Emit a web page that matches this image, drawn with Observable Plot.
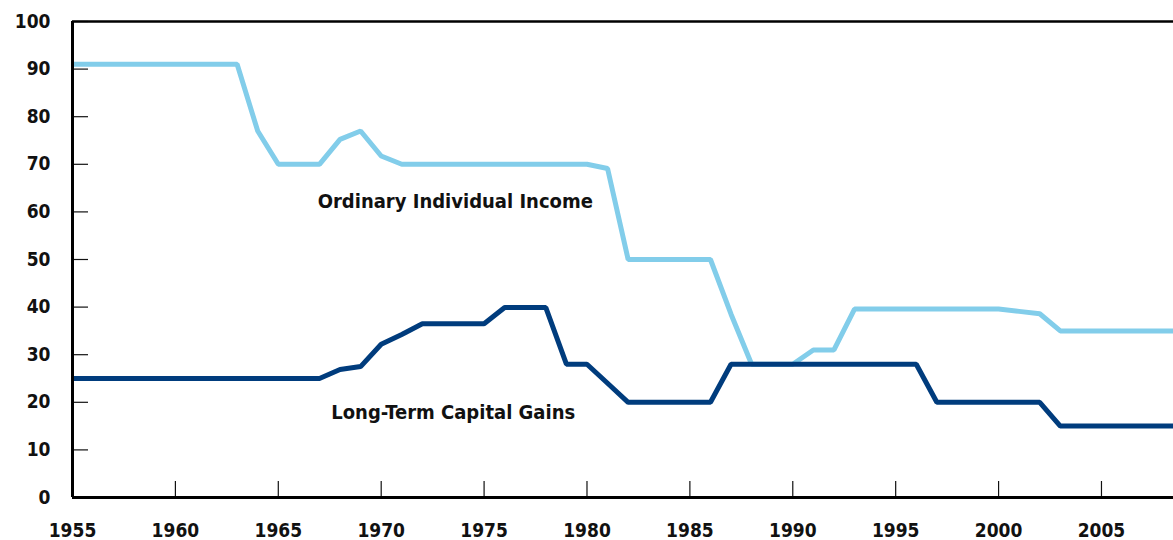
<!DOCTYPE html>
<html>
<head>
<meta charset="utf-8">
<script src="https://cdn.jsdelivr.net/npm/d3@7"></script>
<script src="https://cdn.jsdelivr.net/npm/@observablehq/plot@0.6"></script>
<style>
  html, body { margin: 0; padding: 0; background: #fff; }
  #chart svg { display: block; }
</style>
</head>
<body>
<div id="chart"></div>
<script>
const years = d3.range(1955, 2010);
// Top marginal tax rate on ordinary individual income (%)
const incomeRates = [
  91, 91, 91, 91, 91, 91, 91, 91, 91,        // 1955-1963
  77, 70, 70, 70, 75.25, 77, 71.75,          // 1964-1970
  70, 70, 70, 70, 70, 70, 70, 70, 70, 70,    // 1971-1980
  69.13, 50, 50, 50, 50, 50, 38.5,           // 1981-1987
  28, 28, 28, 31, 31,                        // 1988-1992
  39.6, 39.6, 39.6, 39.6, 39.6, 39.6, 39.6, 39.6, // 1993-2000
  39.1, 38.6, 35, 35, 35, 35, 35, 35, 35     // 2001-2009
];
// Top rate on long-term capital gains (%)
const gainsRates = [
  25, 25, 25, 25, 25, 25, 25, 25, 25, 25, 25, 25, 25, // 1955-1967
  26.9, 27.5, 32.2, 34.25, 36.5, 36.5, 36.5, 36.5,     // 1968-1975
  39.9, 39.9, 39.9, 28, 28, 24,                        // 1976-1981
  20, 20, 20, 20, 20,                                  // 1982-1986
  28, 28, 28, 28, 28, 28, 28, 28, 28, 28,              // 1987-1996
  20, 20, 20, 20, 20, 20,                              // 1997-2002
  15, 15, 15, 15, 15, 15, 15                           // 2003-2009
];
const xTicks = [1955, 1960, 1965, 1970, 1975, 1980, 1985, 1990, 1995, 2000, 2005];
const yTicks = [0, 10, 20, 30, 40, 50, 60, 70, 80, 90, 100];
const seriesLabels = [
  {label: "Ordinary Individual Income", year: 1973.6, value: 62.1},
  {label: "Long-Term Capital Gains", year: 1973.5, value: 17.8}
];

const income = years.map((y, i) => ({year: y, value: incomeRates[i]}));
const gains = years.map((y, i) => ({year: y, value: gainsRates[i]}));

const FONT = "'DejaVu Sans Condensed', 'DejaVu Sans', sans-serif";

const chart = Plot.plot({
  width: 1173,
  height: 540,
  marginLeft: 72,
  marginRight: 0,
  marginTop: 21,
  marginBottom: 43,
  style: {fontFamily: FONT, fontWeight: "bold", fontSize: "19px", color: "#111", background: "#fff", overflow: "hidden"},
  x: {domain: [1955, 2008.5]},
  y: {domain: [0, 100]},
  marks: [
    Plot.axisX({ticks: xTicks, tickFormat: d => String(d), tickSize: -16, tickPadding: 42, strokeWidth: 1.2, label: null, fontSize: 19, fontWeight: "bold"}),
    Plot.axisY({ticks: yTicks, tickSize: -16, tickPadding: 38, strokeWidth: 1.2, label: null, fontSize: 19, fontWeight: "bold"}),
    Plot.line(income, {x: "year", y: "value", stroke: "#82cdea", strokeWidth: 5, strokeLinejoin: "miter", strokeLinecap: "butt", clip: true}),
    Plot.line(gains, {x: "year", y: "value", stroke: "#003c7d", strokeWidth: 5, strokeLinejoin: "miter", strokeLinecap: "butt", clip: true}),
    Plot.ruleY([0], {stroke: "#000", strokeWidth: 3}),
    Plot.ruleY([100], {stroke: "#000", strokeWidth: 2.5}),
    Plot.ruleX([1955], {stroke: "#000", strokeWidth: 3}),
    Plot.text(seriesLabels, {x: "year", y: "value", text: "label", fontSize: 20, fontWeight: "bold", fill: "#111", textAnchor: "middle"})
  ]
});
document.getElementById("chart").appendChild(chart);
</script>
</body>
</html>
